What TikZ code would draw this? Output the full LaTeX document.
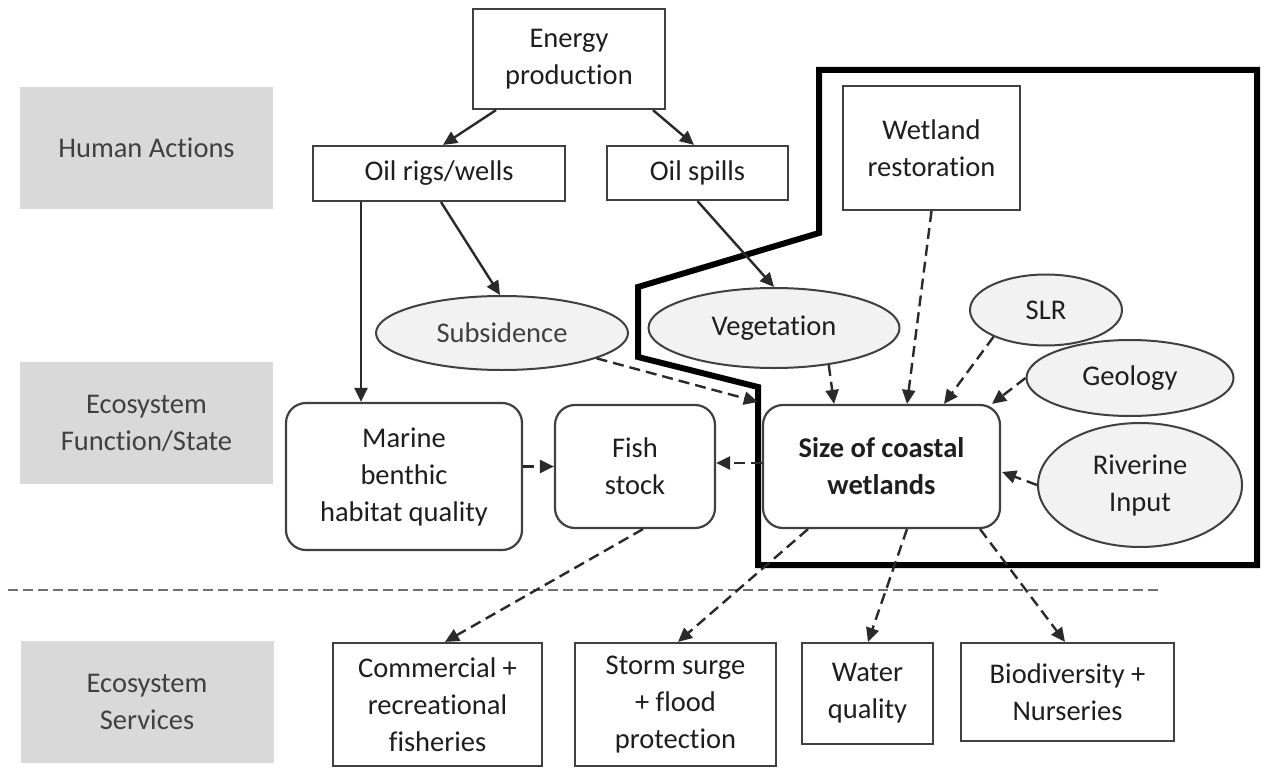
\documentclass[tikz,border=0pt]{standalone}
\usepackage{fontspec}
\setmainfont{Carlito}[Ligatures={NoCommon}]
\usetikzlibrary{shapes.geometric,arrows.meta,calc}
\definecolor{boxgray}{HTML}{D9D9D9}
\definecolor{labelgray}{HTML}{404040}
\definecolor{linec}{HTML}{2A2A2A}
\definecolor{boxline}{HTML}{404040}
\definecolor{textc}{HTML}{1E1E1E}
\definecolor{ovalfill}{HTML}{F2F2F2}
\definecolor{sepgray}{HTML}{707070}
\begin{document}
\begin{tikzpicture}[x=1pt,y=-1pt,
  font=\fontsize{28.5}{37}\selectfont,
  graybox/.style={fill=boxgray, text=labelgray, minimum width=253pt, minimum height=122pt, align=center, inner sep=0pt},
  plainbox/.style={draw=boxline, line width=2.2pt, fill=white, align=center, inner sep=0pt, text=textc},
  roundbox/.style={plainbox, rounded corners=20pt},
  oval/.style={ellipse, draw=boxline, line width=2pt, fill=ovalfill, inner sep=0pt, align=center, text=textc},
  solidarrow/.style={-{Triangle[length=14pt,width=13pt]}, line width=2.4pt, draw=linec},
  dasharrow/.style={solidarrow, dash pattern=on 11pt off 6pt},
  boldline/.style={line width=6pt, draw=black, line join=miter},
  sepline/.style={line width=1.6pt, draw=sepgray, dash pattern=on 10pt off 5pt}
]
\useasboundingbox[fill=white] (0,0) rectangle (1264,768);

% category labels
\node[graybox] (ha) at (146.5,148) {Human Actions};
\node[graybox] (efs) at (146.5,423) {Ecosystem\\Function/State};
\node[graybox] (es) at (147,701.5) {Ecosystem\\Services};

% separator
\coordinate (sepA) at (8,590);
\coordinate (sepB) at (1158,590);
\draw[sepline] (sepA) -- (sepB);

% human actions
\node[plainbox, minimum width=192pt, minimum height=100pt] (energy) at (569,59) {Energy\\production};
\node[plainbox, minimum width=252pt, minimum height=55pt] (oilrigs) at (439,173.5) {Oil rigs/wells};
\node[plainbox, minimum width=181pt, minimum height=54pt] (oilspills) at (697.5,173) {Oil spills};
\node[plainbox, minimum width=177pt, minimum height=124pt] (wetland) at (931.5,148) {Wetland\\restoration};

% boundary of the wetland system
\draw[boldline] (819,70) -- (1257,70) -- (1257,565) -- (758,565) -- (758,387) -- (638,357) -- (638,287) -- (819,233) -- cycle;

% ellipses
\node[oval, minimum width=252pt, minimum height=74pt, text=labelgray] (subs) at (502,333) {Subsidence};
\node[oval, minimum width=251pt, minimum height=80pt] (veg) at (774,328) {Vegetation};
\node[oval, minimum width=152pt, minimum height=71pt] (slr) at (1046,310) {SLR};
\node[oval, minimum width=207pt, minimum height=76pt] (geo) at (1130,378) {Geology};
\node[oval, minimum width=204pt, minimum height=124pt] (riv) at (1140,485) {Riverine\\Input};

% ecosystem function / state
\node[roundbox, minimum width=236pt, minimum height=147pt] (marine) at (404,476.5) {Marine\\benthic\\habitat quality};
\node[roundbox, minimum width=160pt, minimum height=123pt] (fish) at (635,466.5) {Fish\\stock};
\node[roundbox, minimum width=237pt, minimum height=123pt, font=\fontsize{28.5}{37}\selectfont\bfseries] (size) at (881.5,466.5) {Size of coastal\\wetlands};

% ecosystem services
\node[plainbox, minimum width=209pt, minimum height=123pt] (comm) at (437.5,704.5) {Commercial +\\recreational\\fisheries};
\node[plainbox, minimum width=201pt, minimum height=123pt] (storm) at (675.5,704.5) {Storm surge\\+ flood\\protection};
\node[plainbox, minimum width=131pt, minimum height=101pt] (water) at (867.5,693.5) {Water\\quality};
\node[plainbox, minimum width=213pt, minimum height=98pt] (bio) at (1067.5,692) {Biodiversity +\\Nurseries};

% solid connectors
\draw[solidarrow] ([xshift=-73pt]energy.south) -- ([xshift=4pt]oilrigs.north);
\draw[solidarrow] ([xshift=84pt]energy.south) -- ([xshift=-3.5pt]oilspills.north);
\draw[solidarrow] ([xshift=-78pt]oilrigs.south) -- ([xshift=-43pt]marine.north);
\draw[solidarrow] ([xshift=2pt]oilrigs.south) -- ([xshift=-2pt]subs.north);
\draw[solidarrow] (oilspills.south) -- (veg.north);

% dashed connectors into size
\draw[dasharrow] (subs.-15) -- ([xshift=-4pt,yshift=2pt]size.north west);
\draw[dasharrow] (veg.-34) -- ([xshift=-47.5pt]size.north);
\draw[dasharrow] (wetland.south) -- ([xshift=25.5pt]size.north);
\draw[dasharrow] (slr.207) -- ([xshift=62.5pt]size.north);
\draw[dasharrow] (geo.west) -- ([xshift=110.5pt]size.north);
\draw[dasharrow] (riv.west) -- ([xshift=1pt,yshift=-5.5pt]size.east);

% function links
\draw[dasharrow] ([yshift=3.5pt]size.west) -- ([yshift=3.5pt]fish.east);
\draw[dasharrow] (fish.west -| marine.east) -- (fish.west);

% services links
\draw[dasharrow] ([xshift=8pt]fish.south) -- ([xshift=7.5pt]comm.north);
\draw[dasharrow] ([xshift=-73.5pt]size.south) -- ([xshift=2.5pt]storm.north);
\draw[dasharrow] ([xshift=25.5pt]size.south) -- ([xshift=0.5pt]water.north);
\draw[dasharrow] ([xshift=98.5pt]size.south) -- ([xshift=-2.5pt]bio.north);
\end{tikzpicture}
\end{document}
